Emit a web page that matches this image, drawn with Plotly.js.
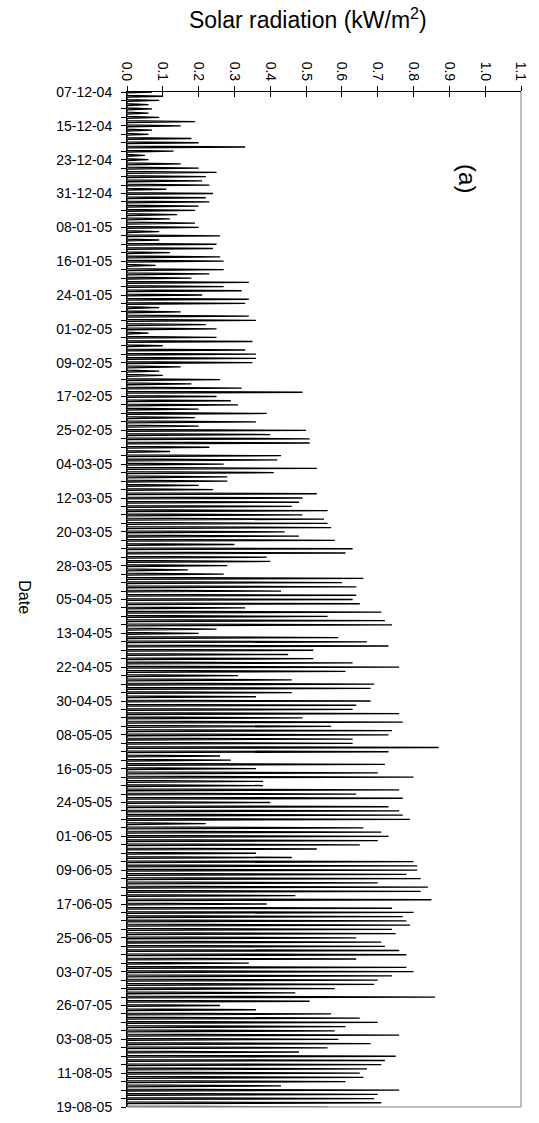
<!DOCTYPE html>
<html><head><meta charset="utf-8">
<script src="https://cdn.plot.ly/plotly-3.0.1.min.js"></script>
<style>html,body{margin:0;padding:0;background:#fff}</style>
</head><body><div id="chart" style="width:539px;height:1123px"></div>
<script>
// Date labels (one label every 8 recorded days)
const dateLabels = ["07-12-04","15-12-04","23-12-04","31-12-04","08-01-05","16-01-05","24-01-05","01-02-05",
  "09-02-05","17-02-05","25-02-05","04-03-05","12-03-05","20-03-05","28-03-05","05-04-05","13-04-05",
  "22-04-05","30-04-05","08-05-05","16-05-05","24-05-05","01-06-05","09-06-05","17-06-05","25-06-05",
  "03-07-05","26-07-05","03-08-05","11-08-05","19-08-05"];

const dailyPeak = [
  0.07,0.10,0.09,0.06,0.07,0.06,0.09,0.19,0.15,0.07,
  0.06,0.18,0.20,0.33,0.13,0.05,0.06,0.15,0.20,0.25,
  0.22,0.21,0.23,0.11,0.24,0.22,0.23,0.20,0.19,0.14,
  0.12,0.19,0.20,0.09,0.26,0.09,0.25,0.24,0.12,0.26,
  0.27,0.08,0.27,0.23,0.18,0.34,0.27,0.32,0.21,0.34,
  0.33,0.09,0.15,0.34,0.36,0.22,0.25,0.06,0.25,0.35,
  0.10,0.33,0.36,0.36,0.35,0.15,0.09,0.10,0.26,0.18,
  0.32,0.49,0.25,0.29,0.31,0.20,0.39,0.19,0.36,0.20,
  0.50,0.40,0.51,0.51,0.23,0.12,0.43,0.42,0.27,0.53,
  0.41,0.28,0.28,0.20,0.24,0.53,0.49,0.48,0.46,0.56,
  0.49,0.55,0.56,0.57,0.44,0.48,0.58,0.30,0.63,0.61,
  0.39,0.40,0.28,0.17,0.27,0.66,0.60,0.64,0.43,0.64,
  0.63,0.65,0.33,0.71,0.56,0.72,0.74,0.25,0.20,0.59,
  0.67,0.73,0.52,0.45,0.52,0.63,0.76,0.61,0.31,0.46,
  0.69,0.68,0.46,0.36,0.68,0.64,0.63,0.76,0.49,0.77,
  0.57,0.74,0.73,0.63,0.63,0.87,0.73,0.26,0.29,0.72,
  0.36,0.70,0.80,0.38,0.38,0.76,0.64,0.77,0.40,0.73,
  0.76,0.77,0.79,0.22,0.66,0.71,0.73,0.70,0.65,0.53,
  0.36,0.46,0.80,0.81,0.81,0.78,0.82,0.70,0.84,0.82,
  0.47,0.85,0.39,0.74,0.80,0.77,0.78,0.79,0.74,0.75,
  0.64,0.71,0.72,0.76,0.78,0.64,0.34,0.78,0.80,0.74,
  0.70,0.69,0.58,0.47,0.86,0.51,0.26,0.36,0.57,0.65,
  0.70,0.61,0.58,0.76,0.59,0.68,0.56,0.48,0.75,0.72,
  0.71,0.67,0.65,0.66,0.61,0.43,0.76,0.70,0.69,0.71,
  0.56
];

const daysPerLabel = 8;
const daysPerTick = 2;

// each day: night zero, daytime peak, night zero
const xs = [], ys = [];
dailyPeak.forEach((v, i) => { xs.push(0, v, 0); ys.push(i - 0.22, i, i + 0.22); });

const tickVals = [], tickText = [];
const lastIndex = (dateLabels.length - 1) * daysPerLabel;
for (let d = 0; d <= lastIndex; d += daysPerTick) {
  tickVals.push(d);
  tickText.push(d % daysPerLabel === 0 ? dateLabels[d / daysPerLabel] : " ");
}

const font = "Liberation Sans, Arial, sans-serif";

const traces = [
  {x: xs, y: ys, type: "scatter", mode: "lines", line: {color: "#000", width: 1.3},
   fill: "tozerox", fillcolor: "rgba(0,0,0,0.3)", hoverinfo: "skip", showlegend: false},
  {x: [0], y: [0], xaxis: "x2", type: "scatter", mode: "markers", marker: {opacity: 0},
   showlegend: false, hoverinfo: "skip"}
];

const layout = {
  width: 539, height: 1123,
  margin: {l: 127, r: 18, t: 92, b: 16},
  paper_bgcolor: "#fff", plot_bgcolor: "#fff",
  showlegend: false,
  font: {family: font, color: "#000"},
  title: {text: "Solar radiation (kW/m<sup>2</sup>)", font: {size: 23, family: font, color: "#000"},
          xref: "paper", x: 0.459, xanchor: "center", yref: "container", y: 0.982, yanchor: "middle"},
  xaxis: {side: "top", range: [0, 1.1], tickmode: "linear", tick0: 0, dtick: 0.1, tickformat: ".1f",
          tickangle: 90, ticks: "outside", ticklen: 5, tickcolor: "#000", tickwidth: 1,
          showline: true, linecolor: "#000", linewidth: 1, showgrid: false, zeroline: false,
          tickfont: {size: 14, family: font, color: "#000"}, anchor: "y", fixedrange: true},
  xaxis2: {overlaying: "x", side: "top", anchor: "y", range: [0, 1.1], tickmode: "linear",
           tick0: 0, dtick: 0.1, ticks: "inside", ticklen: 5, tickcolor: "#000", showticklabels: false,
           showline: false, showgrid: false, zeroline: false, fixedrange: true},
  yaxis: {range: [lastIndex, 0], tickmode: "array", tickvals: tickVals, ticktext: tickText,
          ticks: "outside", ticklen: 5, tickcolor: "#000", tickwidth: 1,
          showline: true, linecolor: "#000", linewidth: 1, showgrid: false, zeroline: false,
          tickfont: {size: 14, family: font, color: "#000"}, ticklabelstandoff: 6, fixedrange: true},
  shapes: [
    {type: "line", xref: "paper", yref: "paper", x0: 1, x1: 1, y0: 0, y1: 1, line: {color: "#a6a6a6", width: 1.5}},
    {type: "line", xref: "paper", yref: "paper", x0: 0, x1: 1, y0: 0, y1: 0, line: {color: "#a6a6a6", width: 1.5}}
  ],
  annotations: [
    {text: "Date", xref: "paper", yref: "paper", x: -0.261, y: 0.502, textangle: 90, showarrow: false,
     font: {size: 16, family: font, color: "#000"}, xanchor: "center", yanchor: "middle"},
    {text: "(a)", xref: "paper", yref: "paper", x: 0.866, y: 0.915, textangle: 90, showarrow: false,
     font: {size: 24, family: font, color: "#000"}, xanchor: "center", yanchor: "middle"}
  ]
};

Plotly.newPlot("chart", traces, layout, {displayModeBar: false, staticPlot: true});
</script>
</body></html>
